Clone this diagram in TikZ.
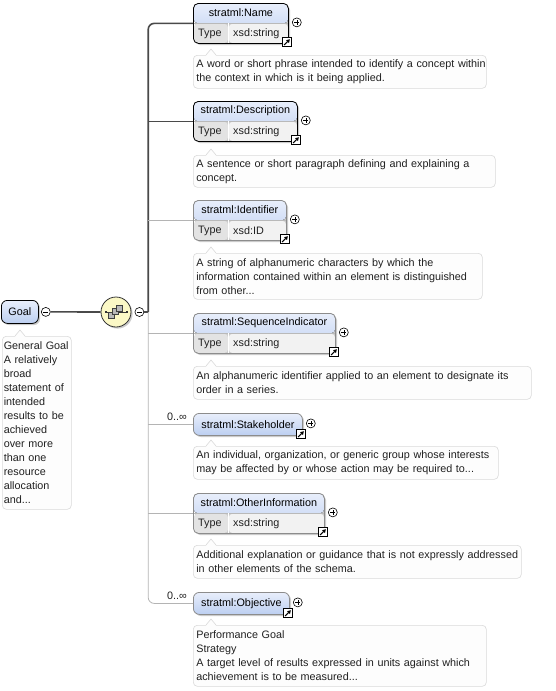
\documentclass[tikz,border=0pt]{standalone}
\usepackage{fontspec}
\setmainfont{Liberation Sans}
\usepackage{tikz}
\usetikzlibrary{
  arrows.meta, % 链接图标中的箭头
  shadows      % 元素框的阴影
}

% 颜色
\definecolor{hdtop}{HTML}{E8EEFB}
\definecolor{hdbot}{HTML}{BCCFF1}
\definecolor{typecell}{HTML}{E3E3E3}
\definecolor{typeval}{HTML}{F2F2F2}
\definecolor{optcol}{HTML}{8C8C8C}
\definecolor{anncol}{HTML}{DADADA}
\definecolor{annfill}{HTML}{FDFDFD}
\definecolor{textcol}{HTML}{202020}
\definecolor{linedark}{HTML}{4A4A4A}
\definecolor{linelight}{HTML}{B4B4B4}
\definecolor{compfill}{HTML}{FBF8C6}

\newcommand\annfont{\fontsize{10.8}{14}\selectfont}

\tikzset{
  shade/.style={drop shadow={shadow xshift=1.6pt, shadow yshift=-1.6pt,
      fill=black!40, opacity=0.5}},
  % 两行元素框（名称 + 类型）
  elem/.style={anchor=north west, rounded corners=5pt, line width=0.8pt,
    inner sep=0pt, minimum height=40pt, shade,
    path picture={
      \fill[top color=hdtop, bottom color=hdbot]
        (path picture bounding box.north west) rectangle
        ([yshift=-20pt]path picture bounding box.north east);
      \fill[typecell] ([yshift=-20pt]path picture bounding box.north west)
        rectangle ([xshift=35pt]path picture bounding box.south west);
      \fill[typeval] ([shift={(35pt,-20pt)}]path picture bounding box.north west)
        rectangle (path picture bounding box.south east);
      \draw[gray!55, line width=0.5pt]
        ([yshift=-20pt]path picture bounding box.north west) --
        ([yshift=-20pt]path picture bounding box.north east);
      \draw[white, line width=0.8pt]
        ([shift={(35pt,-20pt)}]path picture bounding box.north west) --
        ([xshift=35pt]path picture bounding box.south west);
    }},
  mandelem/.style={elem, draw=black},
  optelem/.style={elem, draw=optcol},
  % 单行元素框
  elemone/.style={anchor=north west, rounded corners=6pt, line width=0.8pt,
    inner sep=0pt, minimum height=22pt, top color=hdtop, bottom color=hdbot,
    font=\annfont, text=black, shade},
  mandone/.style={elemone, draw=black},
  optone/.style={elemone, draw=optcol},
  hdtext/.style={font=\annfont, text=black, inner sep=0pt},
  typetext/.style={font=\annfont, text=textcol, inner sep=0pt, anchor=west},
  % 注释框
  ann/.style={anchor=north west, draw=anncol, fill=annfill, rounded corners=4pt,
    line width=0.6pt, align=left, inner xsep=3pt, inner ysep=2pt,
    font=\annfont, text=textcol},
  mult/.style={font=\annfont, text=textcol, inner sep=1pt, anchor=south east},
  % 加号、减号与链接图标
  plus/.style={circle, draw=black, fill=white, line width=0.6pt,
    minimum size=9pt, inner sep=0pt,
    path picture={
      \draw[line width=0.6pt] ([xshift=-2.4pt]path picture bounding box.center)
        -- ([xshift=2.4pt]path picture bounding box.center);
      \draw[line width=0.6pt] ([yshift=-2.4pt]path picture bounding box.center)
        -- ([yshift=2.4pt]path picture bounding box.center);
    }},
  minus/.style={circle, draw=black, fill=white, line width=0.6pt,
    minimum size=9pt, inner sep=0pt,
    path picture={
      \draw[line width=0.6pt] ([xshift=-2.4pt]path picture bounding box.center)
        -- ([xshift=2.4pt]path picture bounding box.center);
    }},
  linkicon/.style={draw=black, fill=white, line width=0.7pt,
    minimum size=9pt, inner sep=0pt,
    path picture={
      \draw[line width=1.1pt, -{Triangle[length=3.4pt, width=3.8pt]}]
        ([shift={(1.8pt,1.8pt)}]path picture bounding box.south west) --
        ([shift={(-1.4pt,-1.4pt)}]path picture bounding box.north east);
    }},
  compositor/.style={circle, draw=black!80, fill=compfill, line width=0.8pt,
    minimum size=30pt, inner sep=0pt, shade},
  mandline/.style={draw=linedark, line width=1.6pt},
  optline/.style={draw=linelight, line width=0.8pt}
}

\begin{document}
\begin{tikzpicture}[x=1pt, y=-1pt]
  % 画布范围
  \fill[white] (0,0) rectangle (555,691);
  \useasboundingbox (0,0) rectangle (555,691);

  % 根元素 Goal
  \node[mandone, minimum width=37, minimum height=23] (goal) at (1,300) {Goal};
  \node[minus] (goal-m) at ([xshift=7pt]goal.east) {};
  \node[ann, text width=66pt, inner xsep=1.5pt, minimum height=173pt] (goal-a) at (2,336)
    {\mbox{General Goal}\\A relatively\\broad\\statement of\\intended\\results to be\\
     achieved\\over more\\than one\\resource\\allocation\\and...};

  % 序列组合器
  \node[compositor] (seq) at (116,312) {};
  \node[minus] (seq-m) at ([xshift=8pt]seq.east) {};
  \begin{scope}[shift={(seq.center)}]
    \draw[black!80, line width=0.7pt] (-10,0) -- (10,0);
    \fill[black!80] (-11.5,-1) rectangle (-9.5,1);
    \fill[black!80] (9.5,-1) rectangle (11.5,1);
    \draw[black!75, fill=gray!55, line width=0.5pt] (-8,0) rectangle (-2,6);
    \draw[black!75, fill=gray!55, line width=0.5pt] (-4,-3.5) rectangle (2,2.5);
    \draw[black!75, fill=gray!55, line width=0.5pt] (0,-7) rectangle (6,-1);
  \end{scope}
  \coordinate (trunk) at ([xshift=4pt]seq-m.east);

  % stratml:Name
  \node[mandelem, minimum width=95] (name) at (193,3) {};
  \node[hdtext] (name-t) at ([yshift=-10pt]name.north) {stratml:Name};
  \node[typetext] (name-k) at ([shift={(5pt,10pt)}]name.south west) {Type};
  \node[typetext] (name-v) at ([shift={(40pt,10pt)}]name.south west) {xsd:string};
  \node[ann, text width=287pt, minimum height=33pt] (name-a) at (193,55)
    {\mbox{A word or short phrase intended to identify a concept within}\\
     the context in which is it being applied.};

  % stratml:Description
  \node[mandelem, minimum width=104] (desc) at (193,101) {};
  \node[hdtext] (desc-t) at ([yshift=-10pt]desc.north) {stratml:Description};
  \node[typetext] (desc-k) at ([shift={(5pt,10pt)}]desc.south west) {Type};
  \node[typetext] (desc-v) at ([shift={(40pt,10pt)}]desc.south west) {xsd:string};
  \node[ann, text width=296pt, minimum height=32pt] (desc-a) at (193,155)
    {\mbox{A sentence or short paragraph defining and explaining a}\\concept.};

  % stratml:Identifier
  \node[optelem, minimum width=93] (ident) at (193,200) {};
  \node[hdtext] (ident-t) at ([yshift=-10pt]ident.north) {stratml:Identifier};
  \node[typetext] (ident-k) at ([shift={(5pt,10pt)}]ident.south west) {Type};
  \node[typetext] (ident-v) at ([shift={(40pt,10pt)}]ident.south west) {xsd:ID};
  \node[ann, text width=283pt, minimum height=46pt] (ident-a) at (193,253)
    {A string of alphanumeric characters by which the\\
     \mbox{information contained within an element is distinguished}\\from other...};

  % stratml:SequenceIndicator
  \node[optelem, minimum width=142] (seqind) at (193,313) {};
  \node[hdtext] (seqind-t) at ([yshift=-10pt]seqind.north) {stratml:SequenceIndicator};
  \node[typetext] (seqind-k) at ([shift={(5pt,10pt)}]seqind.south west) {Type};
  \node[typetext] (seqind-v) at ([shift={(40pt,10pt)}]seqind.south west) {xsd:string};
  \node[ann, text width=332pt, minimum height=33pt] (seqind-a) at (193,366)
    {\mbox{An alphanumeric identifier applied to an element to designate its}\\
     order in a series.};

  % stratml:Stakeholder
  \node[optone, minimum width=109] (stake) at (193,413) {stratml:Stakeholder};
  \node[mult] (stake-n) at ([shift={(-5pt,3pt)}]stake.west) {0..∞};
  \node[ann, text width=299pt, minimum height=33pt] (stake-a) at (193,446)
    {\mbox{An individual, organization, or generic group whose interests}\\
     \mbox{may be affected by or whose action may be required to...}};

  % stratml:OtherInformation
  \node[optelem, minimum width=131] (other) at (193,493) {};
  \node[hdtext] (other-t) at ([yshift=-10pt]other.north) {stratml:OtherInformation};
  \node[typetext] (other-k) at ([shift={(5pt,10pt)}]other.south west) {Type};
  \node[typetext] (other-v) at ([shift={(40pt,10pt)}]other.south west) {xsd:string};
  \node[ann, text width=322pt, minimum height=33pt] (other-a) at (193,545)
    {\mbox{Additional explanation or guidance that is not expressly addressed}\\
     in other elements of the schema.};

  % stratml:Objective
  \node[optone, minimum width=96] (obj) at (193,592) {stratml:Objective};
  \node[mult] (obj-n) at ([shift={(-5pt,3pt)}]obj.west) {0..∞};
  \node[ann, text width=287pt, minimum height=61pt] (obj-a) at (193,625)
    {Performance Goal\\Strategy\\
     \mbox{A target level of results expressed in units against which}\\
     achievement is to be measured...};

  % 加号与链接图标
  \foreach \e in {name, desc, ident, seqind, stake, other, obj} {
    \node[plus] (\e-p) at ([shift={(8pt,1pt)}]\e.east) {};
    \node[linkicon] (\e-i) at ([shift={(-2pt,1.5pt)}]\e.south east) {};
  }

  % 注释框上方的小尖角
  \foreach \a in {goal-a, name-a, desc-a, ident-a, seqind-a, stake-a, other-a, obj-a} {
    \fill[annfill] ([shift={(13pt,-0.8pt)}]\a.north west) --
      ([shift={(18pt,6pt)}]\a.north west) --
      ([shift={(23pt,-0.8pt)}]\a.north west) -- cycle;
    \draw[anncol, line width=0.6pt] ([xshift=13pt]\a.north west) --
      ([shift={(18pt,6pt)}]\a.north west) -- ([xshift=23pt]\a.north west);
  }

  % 连接线：必选元素（粗线）
  \draw[mandline] (goal-m) -- (seq);
  \draw[mandline] (seq-m) -- (trunk);
  \draw[mandline, rounded corners=6pt] (trunk) |- (name.west);
  \draw[mandline] (trunk |- desc.west) -- (desc.west);

  % 连接线：可选元素（细线）
  \draw[optline, rounded corners=6pt] (trunk) |- (obj.west);
  \foreach \e in {ident, seqind, stake, other}
    \draw[optline] (trunk |- \e.west) -- (\e.west);
\end{tikzpicture}
\end{document}
